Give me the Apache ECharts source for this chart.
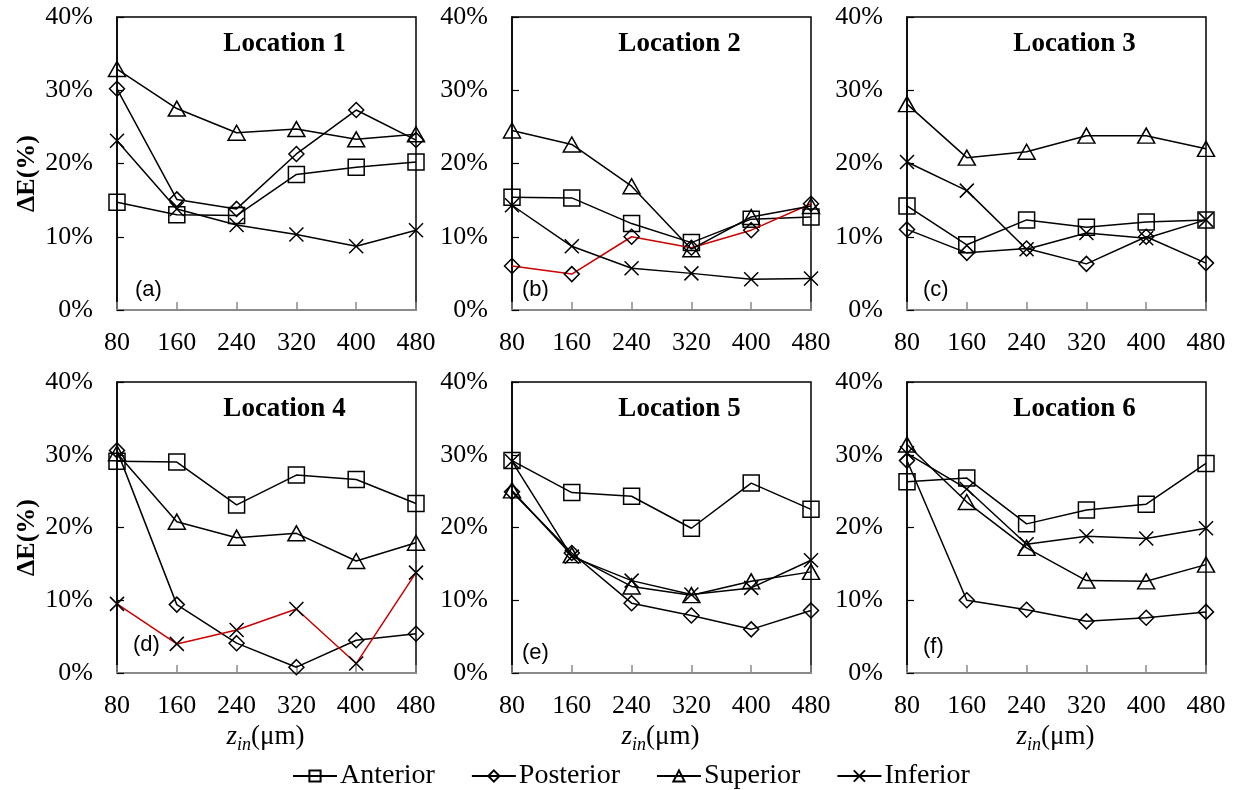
<!DOCTYPE html>
<html><head><meta charset="utf-8">
<script src="https://cdn.jsdelivr.net/npm/echarts@6/dist/echarts.min.js"></script>
<style>html,body{margin:0;padding:0;background:#fff}#c{width:1238px;height:790px}</style>
</head><body><div id="c"></div>
<script>
const zin = ['80','160','240','320','400','480'];
const seriesNames = ['Anterior','Posterior','Superior','Inferior'];
const locationTitles = ['Location 1','Location 2','Location 3','Location 4','Location 5','Location 6'];
const panelLetters = ['(a)','(b)','(c)','(d)','(e)','(f)'];
const yTicks = [0,10,20,30,40];

// Location 1
const anterior1  = [14.7, 13.0, 12.9, 18.5, 19.5, 20.2];
const posterior1 = [30.2, 15.1, 13.8, 21.3, 27.3, 23.2];
const superior1  = [32.9, 27.5, 24.2, 24.7, 23.3, 24.0];
const inferior1  = [23.1, 13.8, 11.6, 10.3, 8.7, 10.9];
// Location 2
const anterior2  = [15.4, 15.3, 11.8, 9.2, 12.4, 12.7];
const posterior2 = [6.0, 4.9, 10.0, 8.5, 10.9, 14.5];
const superior2  = [24.5, 22.6, 16.9, 8.3, 12.7, 14.2];
const inferior2  = [14.3, 8.7, 5.7, 5.0, 4.2, 4.3];
// Location 3
const anterior3  = [14.2, 8.9, 12.3, 11.3, 12.0, 12.3];
const posterior3 = [11.0, 7.8, 8.4, 6.3, 10.0, 6.4];
const superior3  = [28.1, 20.8, 21.6, 23.8, 23.8, 22.0];
const inferior3  = [20.2, 16.3, 8.3, 10.5, 9.8, 12.3];
// Location 4
const anterior4  = [29.1, 29.0, 23.1, 27.2, 26.6, 23.3];
const posterior4 = [30.6, 9.4, 4.1, 0.8, 4.5, 5.4];
const superior4  = [30.2, 20.8, 18.6, 19.2, 15.4, 17.9];
const inferior4  = [9.5, 4.0, 5.9, 8.8, 1.3, 13.8];
// Location 5
const anterior5  = [29.2, 24.8, 24.3, 19.9, 26.1, 22.5];
const posterior5 = [24.9, 16.5, 9.6, 7.9, 6.0, 8.6];
const superior5  = [25.1, 16.2, 11.9, 10.7, 12.6, 13.9];
const inferior5  = [29.1, 16.0, 12.7, 10.8, 11.7, 15.5];
// Location 6
const anterior6  = [26.3, 26.8, 20.5, 22.4, 23.2, 28.8];
const posterior6 = [29.2, 10.0, 8.7, 7.1, 7.6, 8.4];
const superior6  = [31.4, 23.5, 17.2, 12.7, 12.6, 14.9];
const inferior6  = [30.2, 25.3, 17.7, 18.8, 18.5, 19.9];

const panelData = [
  [anterior1, posterior1, superior1, inferior1],
  [anterior2, posterior2, superior2, inferior2],
  [anterior3, posterior3, superior3, inferior3],
  [anterior4, posterior4, superior4, inferior4],
  [anterior5, posterior5, superior5, inferior5],
  [anterior6, posterior6, superior6, inferior6]
];

const SERIF = '"Liberation Serif", "Times New Roman", serif';
const SANS = '"Liberation Sans", Arial, sans-serif';
const lefts = [117, 512, 907];
const tops = [17, 382];
const W = 299;
const heights = [293, 291];
const letterOffsets = [18, 10, 16, 16, 10, 16];
const letterUp = [20, 20, 20, 28, 20, 26];

const symbols = [
  {symbol: 'rect', size: 16},
  {symbol: 'diamond', size: 15},
  {symbol: 'triangle', size: [17, 15]},
  {symbol: 'path://M0,0L10,10M10,0L0,10', size: 14}
];
const redSeries = {1: 1, 3: 3}; // panel index -> series index drawn with red line

const grids = [], xAxes = [], yAxes = [], series = [], graphics = [];
for (let p = 0; p < 6; p++) {
  const r = Math.floor(p / 3), c = p % 3;
  const L = lefts[c], T = tops[r], H = heights[r];
  grids.push({left: L, top: T, width: W, height: H, show: true, borderColor: '#000', borderWidth: 1.5, backgroundColor: 'transparent'});
  xAxes.push({
    type: 'category', gridIndex: p, data: zin, boundaryGap: false,
    axisLine: {lineStyle: {color: '#8a8a8a', width: 2}},
    axisTick: {inside: true, length: 8, lineStyle: {color: '#8a8a8a', width: 1.5}},
    axisLabel: {fontFamily: SERIF, fontSize: 26, color: '#000', margin: 20},
    splitLine: {show: false}
  });
  yAxes.push({
    type: 'value', gridIndex: p, min: 0, max: 40, interval: 10,
    axisLine: {show: true, lineStyle: {color: '#000', width: 1.5}},
    axisTick: {show: true, inside: true, length: 7, lineStyle: {color: '#000', width: 1.2}},
    axisLabel: {fontFamily: SERIF, fontSize: 26, color: '#000', margin: 24, formatter: '{value}%'},
    splitLine: {show: false}
  });
  for (let s = 0; s < 4; s++) {
    const isRed = redSeries[p] === s;
    series.push({
      name: seriesNames[s], type: 'line', xAxisIndex: p, yAxisIndex: p,
      data: panelData[p][s],
      symbol: symbols[s].symbol, symbolSize: symbols[s].size, showAllSymbol: true,
      lineStyle: {color: isRed ? '#cc0000' : '#000', width: 1.5},
      itemStyle: {color: 'rgba(255,255,255,0)', borderColor: '#000', borderWidth: 1.5},
      emphasis: {disabled: true}, animation: false, z: 2 + s
    });
  }
  graphics.push({
    type: 'text', x: L + W / 2 + 18, y: T + 27,
    style: {text: locationTitles[p], font: 'bold 27px ' + SERIF, fill: '#000', align: 'center', verticalAlign: 'middle'}
  });
  graphics.push({
    type: 'text', x: L + letterOffsets[p], y: T + H - letterUp[p],
    style: {text: panelLetters[p], font: '22px ' + SANS, fill: '#000', align: 'left', verticalAlign: 'middle'}
  });
  if (c === 0) {
    graphics.push({
      type: 'text', x: 27, y: T + H / 2 + 10, rotation: Math.PI / 2,
      style: {text: 'ΔE(%)', font: 'bold 26px ' + SERIF, fill: '#000', align: 'center', verticalAlign: 'middle'}
    });
  }
  if (r === 1) {
    graphics.push({
      type: 'text', x: L + W / 2 - 1, y: 737,
      style: {
        text: '{z|z}{s|in}{n|(μm)}', align: 'center', verticalAlign: 'middle',
        rich: {
          z: {fontFamily: SERIF, fontStyle: 'italic', fontSize: 27, lineHeight: 34, verticalAlign: 'middle', fill: '#000'},
          s: {fontFamily: SERIF, fontStyle: 'italic', fontSize: 18, lineHeight: 18, verticalAlign: 'bottom', fill: '#000'},
          n: {fontFamily: SERIF, fontSize: 27, lineHeight: 34, verticalAlign: 'middle', fill: '#000'}
        }
      }
    });
  }
}

const chart = echarts.init(document.getElementById('c'), null, {renderer: 'canvas'});
chart.setOption({
  animation: false,
  backgroundColor: '#fff',
  grid: grids, xAxis: xAxes, yAxis: yAxes, series: series,
  legend: {
    data: seriesNames, left: 287, top: 757, itemWidth: 44, itemHeight: 14, itemGap: 36,
    selectedMode: false,
    textStyle: {fontFamily: SERIF, fontSize: 28, color: '#000', padding: [0, 0, 0, -2]}
  },
  graphic: graphics
});
</script></body></html>
